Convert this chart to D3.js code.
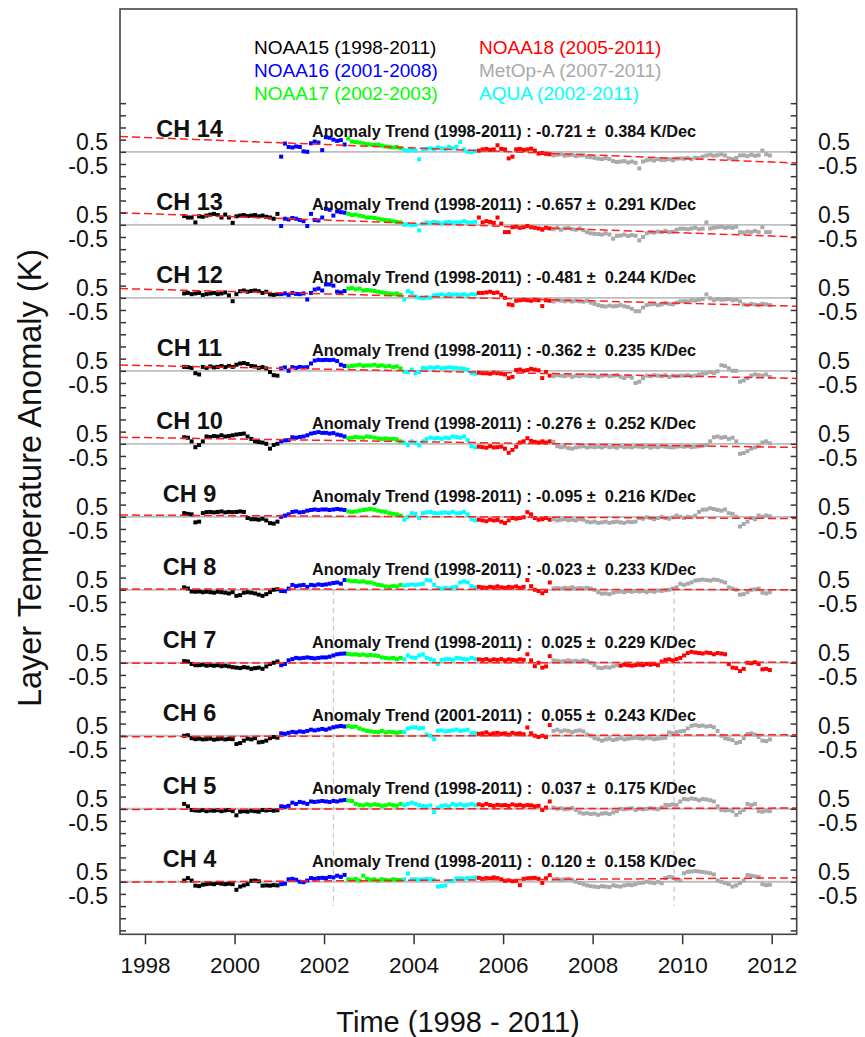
<!DOCTYPE html>
<html><head><meta charset="utf-8">
<script src="https://cdn.jsdelivr.net/npm/d3@7"></script>
<style>body{margin:0;background:#fff}svg text{font-family:"Liberation Sans",Arial,sans-serif}</style>
</head><body>
<svg id="chart" width="865" height="1037"></svg>
<script>
// ---------------- data ----------------
// monthly anomalies (K), first value = Nov 1998, last = Dec 2011
const ch14 = [null,null,
 null,null,null,null,null,null,null,null,null,null,null,null,
 null,null,null,null,null,null,null,null,null,null,null,null,
 -0.2,0.34,0.2,0.18,0.22,0.2,0.02,0.0,0.35,0.42,0.38,0.07,
 0.6,0.58,0.5,0.45,0.48,0.3,0.55,0.42,0.4,0.38,0.35,0.32,
 0.3,0.28,0.3,0.25,0.22,0.2,0.18,0.2,0.15,0.07,0.05,0.1,
 0.05,-0.31,0.1,0.12,0.15,0.1,0.18,0.14,0.12,0.2,0.15,0.2,
 0.4,0.1,0.0,-0.02,0.03,0.05,0.1,0.12,0.08,0.1,0.27,0.12,
 0.1,-0.27,-0.2,0.1,0.12,0.08,0.1,0.13,0.05,-0.07,-0.05,-0.08,
 -0.1,-0.15,-0.12,-0.1,-0.16,-0.14,-0.12,-0.18,-0.15,-0.14,-0.2,-0.22,
 -0.25,-0.28,-0.3,-0.26,-0.3,-0.38,-0.42,-0.4,-0.38,-0.44,-0.4,-0.45,
 -0.68,-0.4,-0.35,-0.32,-0.36,-0.3,-0.34,-0.33,-0.3,-0.35,-0.28,-0.27,
 -0.28,-0.25,-0.3,-0.24,-0.26,-0.2,-0.15,-0.12,-0.16,-0.14,-0.1,-0.15,
 -0.27,-0.3,-0.25,-0.15,-0.14,-0.18,-0.12,-0.16,-0.14,0.05,-0.1,-0.15];
const ch13 = [0.36,0.3,
 0.3,0.1,0.35,0.33,0.38,0.42,0.45,0.4,0.3,0.42,0.3,0.08,
 0.35,0.38,0.4,0.36,0.38,0.4,0.35,0.38,0.33,0.3,0.25,0.45,
 -0.05,0.25,0.22,0.28,0.25,0.2,0.15,-0.05,0.45,0.2,0.18,0.3,
 0.66,0.62,0.38,0.55,0.52,0.5,0.45,0.4,0.42,0.38,0.35,0.3,
 0.3,0.28,0.25,0.22,0.2,0.18,0.15,0.12,0.1,0.0,0.02,-0.02,
 0.0,-0.23,0.05,0.1,0.08,0.12,0.1,0.05,0.1,0.12,0.08,0.1,
 0.1,0.15,0.1,0.08,0.12,0.3,0.1,0.15,0.12,0.08,0.3,0.05,
 -0.3,-0.3,-0.1,-0.08,-0.12,-0.1,-0.05,-0.1,-0.12,-0.15,-0.2,-0.12,
 -0.15,-0.18,-0.12,-0.2,-0.15,-0.12,-0.18,-0.2,-0.15,-0.22,-0.3,-0.35,
 -0.37,-0.38,-0.4,-0.35,-0.4,-0.57,-0.45,-0.44,-0.4,-0.46,-0.42,-0.45,
 -0.64,-0.5,-0.35,-0.3,-0.32,-0.28,-0.3,-0.25,-0.3,-0.28,-0.2,-0.16,
 -0.16,-0.18,-0.15,-0.12,-0.18,-0.16,0.1,-0.15,-0.12,-0.1,-0.08,-0.12,
 -0.1,-0.12,-0.08,-0.3,-0.32,-0.28,-0.3,-0.25,-0.3,-0.1,-0.3,-0.3];
const ch12 = [0.18,0.2,
 0.15,0.18,0.2,0.12,0.15,0.18,0.2,0.15,0.18,0.22,0.1,-0.14,
 0.15,0.27,0.3,0.25,0.28,0.3,0.27,0.2,0.25,0.14,0.12,0.15,
 0.15,0.18,0.12,0.2,0.16,0.15,0.18,-0.07,0.2,0.34,0.38,0.3,
 0.55,0.55,0.5,0.25,0.22,0.28,0.38,0.4,0.35,0.38,0.3,0.32,
 0.3,0.28,0.25,0.22,0.2,0.18,0.15,0.18,0.12,-0.07,0.27,0.2,
 0.05,0.0,-0.02,0.02,0.0,0.1,0.12,0.14,0.1,0.15,0.12,0.14,
 0.12,0.14,0.1,0.15,0.14,0.2,0.2,0.22,0.25,0.2,0.22,0.12,
 0.0,-0.27,-0.3,-0.12,-0.1,-0.08,-0.1,-0.12,-0.08,-0.1,-0.34,-0.1,
 -0.12,-0.15,-0.1,-0.12,-0.14,-0.1,-0.15,-0.12,-0.14,-0.16,-0.12,-0.2,
 -0.25,-0.3,-0.34,-0.36,-0.32,-0.35,-0.34,-0.3,-0.35,-0.38,-0.45,-0.55,
 -0.55,-0.4,-0.3,-0.27,-0.25,-0.3,-0.27,-0.22,-0.25,-0.27,-0.2,-0.15,
 -0.14,-0.15,-0.1,-0.12,-0.08,-0.05,0.14,-0.02,-0.1,-0.05,-0.08,-0.07,
 -0.05,-0.1,-0.08,-0.15,-0.27,-0.3,-0.25,-0.28,-0.3,-0.25,-0.27,-0.3];
const ch11 = [0.16,0.15,
 0.12,-0.1,-0.15,0.16,0.12,0.18,0.14,0.16,0.2,0.15,0.2,0.16,
 0.25,0.3,0.32,0.28,0.2,0.18,0.12,0.15,0.1,-0.05,-0.18,-0.2,
 0.1,0.14,0.0,0.15,0.12,0.16,0.14,0.15,0.3,0.42,0.45,0.44,
 0.45,0.44,0.45,0.4,0.25,0.2,0.18,0.2,0.22,0.25,0.2,0.22,
 0.22,0.25,0.2,0.22,0.18,0.2,0.15,0.18,0.1,-0.04,-0.05,0.05,
 -0.1,-0.05,0.12,0.1,0.14,0.12,0.15,0.1,0.12,0.14,0.13,0.12,
 0.1,0.08,0.05,-0.1,-0.12,-0.08,-0.1,-0.1,-0.12,-0.08,-0.1,-0.12,
 -0.15,-0.3,-0.25,0.03,0.05,0.0,0.03,0.08,0.05,0.02,-0.3,-0.05,
 -0.2,-0.22,-0.18,-0.2,-0.22,-0.18,-0.25,-0.2,-0.22,-0.18,-0.2,-0.22,
 -0.2,-0.25,-0.2,-0.18,-0.22,-0.2,-0.18,-0.25,-0.3,-0.22,-0.28,-0.5,
 -0.45,-0.3,-0.2,-0.22,-0.18,-0.2,-0.22,-0.18,-0.25,-0.2,-0.22,-0.2,
 -0.2,-0.18,-0.22,-0.2,-0.15,-0.12,-0.1,-0.05,-0.1,-0.02,0.23,0.2,
 0.1,0.0,0.0,-0.45,-0.4,-0.3,-0.2,-0.15,-0.18,-0.2,-0.15,-0.25];
const ch10 = [0.27,0.25,
 0.1,-0.14,-0.05,0.1,0.3,0.28,0.32,0.3,0.35,0.3,0.32,0.35,
 0.38,0.4,0.42,0.3,0.2,0.1,0.07,0.05,0.0,-0.2,-0.05,0.0,
 0.1,0.14,0.15,0.27,0.25,0.28,0.3,0.35,0.42,0.45,0.48,0.45,
 0.45,0.42,0.44,0.38,0.35,0.3,0.23,0.25,0.28,0.26,0.25,0.3,
 0.28,0.25,0.22,0.2,0.22,0.2,0.2,0.18,0.1,0.05,-0.05,0.1,
 0.05,-0.07,0.1,0.2,0.25,0.22,0.24,0.2,0.25,0.23,0.3,0.28,
 0.25,0.3,0.15,-0.1,-0.15,-0.12,-0.14,-0.16,-0.1,-0.15,-0.14,-0.12,
 -0.2,-0.37,-0.25,-0.12,0.05,0.1,0.23,0.12,0.08,0.05,0.1,0.05,
 0.1,0.08,-0.1,-0.14,-0.12,-0.18,-0.2,-0.15,-0.12,-0.1,-0.15,-0.12,
 -0.14,-0.12,-0.15,-0.1,-0.14,-0.12,-0.16,-0.1,-0.14,-0.12,-0.15,-0.1,
 -0.12,-0.14,-0.1,-0.16,-0.12,-0.14,-0.1,-0.12,-0.14,-0.15,-0.12,-0.1,
 -0.12,-0.1,-0.14,-0.12,-0.1,-0.08,-0.05,0.1,0.27,0.3,0.25,0.28,
 0.2,0.25,0.1,-0.41,-0.38,-0.3,-0.2,-0.15,-0.1,0.05,0.1,0.02];
const ch9 = [0.15,0.12,
 0.1,-0.23,-0.2,0.15,0.19,0.2,0.18,0.2,0.22,0.18,0.2,0.19,
 0.2,0.22,0.2,-0.05,-0.1,-0.1,-0.12,-0.08,-0.15,-0.26,-0.28,-0.2,
 0.0,0.05,0.1,0.2,0.22,0.18,0.2,0.25,0.28,0.3,0.28,0.3,
 0.3,0.28,0.3,0.32,0.3,0.28,0.22,0.2,0.22,0.25,0.28,0.3,
 0.32,0.29,0.25,0.22,0.2,0.15,0.12,0.1,0.05,-0.12,0.0,0.15,
 0.12,-0.05,0.15,0.18,0.2,0.15,0.14,0.16,0.18,0.15,0.2,0.14,
 0.15,0.2,0.1,-0.1,-0.15,-0.12,-0.15,-0.18,-0.12,-0.15,-0.13,-0.2,
 -0.26,-0.15,-0.05,-0.08,-0.05,-0.02,0.19,0.1,-0.05,-0.12,-0.1,-0.05,
 -0.12,-0.1,-0.15,-0.12,-0.1,-0.14,-0.12,-0.15,-0.1,-0.12,-0.2,-0.23,
 -0.2,-0.25,-0.23,-0.2,-0.25,-0.22,-0.2,-0.23,-0.25,-0.2,-0.22,-0.2,
 -0.05,-0.08,-0.02,-0.05,-0.1,-0.05,0.0,-0.05,-0.08,-0.02,0.05,0.0,
 -0.05,0.0,-0.02,0.05,0.2,0.29,0.3,0.35,0.32,0.28,0.25,0.3,
 0.15,0.12,0.0,-0.4,-0.3,-0.2,-0.05,-0.1,0.05,0.0,0.05,0.02];
const ch8 = [0.1,0.05,
 -0.07,-0.08,-0.07,-0.1,-0.08,-0.1,-0.12,-0.08,-0.1,-0.12,-0.15,-0.1,
 -0.25,-0.22,-0.12,-0.1,-0.12,-0.15,-0.2,-0.25,-0.18,-0.1,0.0,0.02,
 -0.05,-0.06,0.05,0.2,0.15,0.18,0.2,0.12,0.2,0.18,0.22,0.2,
 0.22,0.25,0.28,0.3,0.25,0.4,0.38,0.35,0.36,0.33,0.35,0.3,
 0.3,0.25,0.2,0.18,0.14,0.12,0.15,0.14,0.2,0.18,0.2,0.22,
 0.2,0.22,0.25,0.4,0.38,0.2,0.07,0.05,0.08,0.05,0.1,0.12,
 0.3,0.34,0.3,0.15,0.1,0.12,0.1,0.08,0.12,0.1,0.14,0.1,
 0.08,0.12,0.1,0.14,0.08,0.12,0.4,0.15,0.0,-0.05,-0.14,-0.05,
 0.3,0.05,0.07,0.05,0.08,0.06,0.1,0.05,0.07,0.05,0.08,0.05,
 0.0,-0.1,-0.16,-0.15,-0.18,-0.12,-0.08,-0.07,-0.1,-0.05,-0.08,-0.05,
 -0.07,-0.05,-0.1,-0.05,-0.08,-0.03,-0.05,-0.02,0.0,0.05,0.1,0.25,
 0.2,0.25,0.3,0.38,0.4,0.42,0.4,0.38,0.42,0.4,0.35,0.3,
 0.1,0.05,0.0,-0.2,-0.18,-0.1,0.0,0.02,0.05,-0.12,-0.15,-0.1];
const ch7 = [0.07,0.05,
 -0.05,-0.1,-0.1,-0.08,-0.12,-0.1,-0.12,-0.1,-0.14,-0.12,-0.15,-0.18,
 -0.2,-0.22,-0.18,-0.2,-0.25,-0.22,-0.2,-0.25,-0.15,-0.05,0.0,0.05,
 -0.1,-0.05,0.1,0.15,0.2,0.18,0.2,0.22,0.2,0.18,0.2,0.22,
 0.22,0.25,0.3,0.35,0.37,0.38,0.36,0.34,0.35,0.32,0.34,0.3,
 0.32,0.3,0.28,0.22,0.2,0.18,0.2,0.15,0.2,0.15,0.3,0.22,
 0.2,0.3,0.34,0.2,0.15,0.1,-0.05,0.12,0.14,0.15,0.12,0.2,
 0.18,0.15,0.14,0.2,0.15,0.14,0.12,0.15,0.1,0.14,0.12,0.15,
 0.1,0.14,0.12,0.1,0.14,0.12,0.35,0.1,-0.14,0.0,-0.2,-0.15,
 0.27,0.1,0.08,0.05,0.07,0.1,0.06,0.08,0.05,0.1,0.07,0.0,
 -0.1,-0.2,-0.22,-0.18,-0.2,-0.15,-0.1,-0.12,-0.08,-0.1,-0.12,-0.1,
 -0.08,-0.1,-0.05,-0.08,-0.05,-0.1,0.05,0.12,0.14,0.1,0.15,0.2,
 0.3,0.4,0.45,0.42,0.4,0.38,0.42,0.4,0.35,0.4,0.38,0.35,
 -0.05,-0.2,-0.22,-0.34,-0.25,0.0,-0.02,0.02,-0.05,-0.27,-0.25,-0.3];
const ch6 = [0.0,0.02,
 -0.1,-0.14,-0.12,-0.15,-0.14,-0.12,-0.16,-0.14,-0.12,-0.15,-0.13,-0.14,
 -0.34,-0.3,-0.2,-0.12,-0.15,-0.1,-0.27,-0.25,-0.2,-0.1,-0.05,-0.08,
 0.1,0.08,0.12,0.16,0.14,0.18,0.16,0.2,0.25,0.22,0.25,0.28,
 0.25,0.3,0.35,0.38,0.4,0.38,0.4,0.36,0.38,0.3,0.25,0.2,
 0.18,0.16,0.15,0.2,0.14,0.16,0.15,0.12,0.15,0.15,0.3,0.34,
 0.35,0.3,0.32,0.05,0.0,-0.14,0.2,0.22,0.18,0.2,0.22,0.25,
 0.2,0.22,0.25,0.1,0.12,0.08,0.1,0.14,0.06,0.1,0.12,0.08,
 0.1,0.05,0.12,0.08,0.1,0.06,0.34,0.1,0.0,-0.05,0.0,-0.05,
 0.44,0.2,0.25,0.18,0.22,0.2,0.15,0.2,0.22,0.18,0.05,0.0,
 -0.1,-0.14,-0.2,-0.15,-0.12,-0.18,-0.14,-0.1,-0.15,-0.12,-0.1,-0.08,
 -0.1,-0.12,-0.08,-0.1,-0.14,-0.12,-0.1,-0.08,0.14,0.1,0.15,0.18,
 0.2,0.3,0.41,0.44,0.4,0.42,0.38,0.4,0.35,0.2,0.0,-0.1,
 -0.14,-0.18,-0.3,-0.25,-0.1,0.07,0.1,0.05,-0.05,-0.2,-0.22,-0.15];
const ch5 = [0.2,0.1,
 -0.05,-0.07,-0.08,-0.06,-0.1,-0.07,-0.08,-0.06,-0.1,-0.07,-0.05,-0.1,
 -0.27,-0.12,-0.1,-0.12,-0.08,-0.1,-0.12,-0.05,-0.07,-0.05,-0.08,-0.06,
 0.1,0.08,0.12,0.25,0.2,0.28,0.25,0.2,0.3,0.28,0.3,0.32,
 0.3,0.28,0.32,0.3,0.34,0.36,0.34,0.32,0.2,0.16,0.14,0.18,
 0.15,0.18,0.16,0.12,0.14,0.18,0.15,0.12,0.2,0.15,0.2,0.25,
 0.2,0.15,0.12,0.1,0.14,-0.14,0.05,0.12,0.14,0.1,0.2,0.15,
 0.18,0.14,0.16,0.2,0.15,0.18,0.14,0.2,0.15,0.12,0.16,0.14,
 0.15,0.12,0.18,0.14,0.16,0.12,0.15,0.14,0.1,0.12,-0.05,0.05,
 0.3,0.05,0.0,0.02,-0.02,0.0,0.03,-0.05,-0.15,-0.2,-0.18,-0.22,
 -0.2,-0.25,-0.2,-0.18,-0.22,-0.15,-0.1,0.0,-0.02,0.0,0.02,-0.05,
 0.0,-0.02,0.0,0.02,0.0,-0.02,0.05,0.16,0.15,0.18,0.16,0.3,
 0.4,0.38,0.42,0.4,0.35,0.4,0.38,0.35,0.3,0.1,-0.05,-0.07,
 -0.05,-0.1,-0.25,-0.15,-0.05,0.2,0.15,0.2,-0.1,-0.12,-0.08,-0.1];
const ch4 = [0.05,0.15,
 0.05,-0.16,-0.18,-0.12,-0.1,-0.08,-0.1,-0.05,-0.08,-0.1,-0.08,-0.1,
 -0.33,-0.2,-0.15,-0.1,0.04,0.05,0.02,-0.16,-0.15,-0.16,-0.14,-0.15,
 -0.1,-0.08,0.1,0.12,0.08,0.0,-0.02,0.05,0.15,0.12,0.15,0.16,
 0.15,0.2,0.18,0.25,0.2,0.28,0.1,0.08,0.12,0.05,0.25,0.12,
 0.08,0.1,0.05,0.1,0.08,0.06,0.1,0.08,0.07,0.1,0.34,0.1,
 0.1,0.08,0.1,0.12,0.1,0.08,-0.2,-0.18,-0.15,0.02,0.04,0.14,
 0.14,0.12,0.15,0.14,0.18,0.16,0.12,0.15,0.14,0.18,0.15,0.1,
 0.04,0.06,0.02,0.04,-0.14,0.12,0.14,0.15,0.16,0.12,-0.05,0.14,
 0.27,0.1,0.12,0.08,0.1,0.12,0.08,0.0,-0.05,-0.1,-0.15,-0.18,
 -0.2,-0.22,-0.18,-0.2,-0.22,-0.15,-0.18,-0.2,-0.15,-0.12,-0.14,-0.1,
 -0.05,-0.04,0.0,-0.03,-0.05,0.0,-0.06,0.15,0.2,0.18,0.1,0.05,
 0.35,0.41,0.42,0.44,0.42,0.4,0.38,0.35,0.3,0.05,0.0,-0.05,
 -0.1,-0.2,-0.15,-0.05,0.05,0.27,0.25,0.22,0.2,-0.1,-0.14,-0.12];

const channelNames = ["CH 14","CH 13","CH 12","CH 11","CH 10","CH 9","CH 8","CH 7","CH 6","CH 5","CH 4"];
const channelSeries = [ch14,ch13,ch12,ch11,ch10,ch9,ch8,ch7,ch6,ch5,ch4];
const channelOffsets = [30,27,24,21,18,15,12,9,6,3,0];
const trendPeriods = ["1998-2011","1998-2011","1998-2011","1998-2011","1998-2011","1998-2011","1998-2011","1998-2011","2001-2011","1998-2011","1998-2011"];
const trendSlopes = [-0.721,-0.657,-0.481,-0.362,-0.276,-0.095,-0.023,0.025,0.055,0.037,0.120]; // K/decade
const trendErrors = [0.384,0.291,0.244,0.235,0.252,0.216,0.233,0.229,0.243,0.175,0.158];
const trendAt2005 = [0.085,0.0,0.016,-0.04,0.06,0.0,0.02,0.0,0.0,0.0,0.07];

const satNames = ["NOAA15 (1998-2011)","NOAA16 (2001-2008)","NOAA17 (2002-2003)","NOAA18 (2005-2011)","MetOp-A (2007-2011)","AQUA (2002-2011)"];
const satColors = ["#000000","#0000FF","#00FF00","#FF0000","#A9A9A9","#00FFFF"];
// satellite shown for each month range (start month index; 0 = Nov 1998)
const segStart = [0,26,44,59,79,99];
const segSat   = [0,1,2,5,3,4];
const segExtra = {"CH 7": [[117,3]]}; // NOAA18 plotted from Aug 2008 in CH 7

const xTickYears = [1998,2000,2002,2004,2006,2008,2010,2012];
const yTickValues = d3.range(-2, 32.001, 0.5);
const markerYears = [2002.21, 2009.82];
const startMonthIndex = 10; // Nov 1998 counted from Jan 1998

// ---------------- drawing ----------------
const svg = d3.select("#chart");
const L = 120, R = 796.7, T = 9, B = 934.3;
const x = d3.scaleLinear().domain([1997.4415, 2012.5585]).range([L, R]);
const y = d3.scaleLinear().domain([-2.16, 35.87]).range([B, T]);
const tOf = i => 1998 + (startMonthIndex + i + 0.5) / 12;

svg.append("rect").attr("width",865).attr("height",1037).attr("fill","#fff");

svg.append("defs").append("clipPath").attr("id","plotclip")
  .append("rect").attr("x",L).attr("y",T).attr("width",R-L).attr("height",B-T);

const plot = svg.append("g").attr("clip-path","url(#plotclip)");

// vertical markers
markerYears.forEach(yr => {
  plot.append("line").attr("x1",x(yr)).attr("x2",x(yr))
    .attr("y1",y(12)).attr("y2",y(-1))
    .attr("stroke","#c8c8c8").attr("stroke-width",1.3).attr("stroke-dasharray","5,4");
});

function satFor(name, i){
  let s = 0;
  segStart.forEach((st,k)=>{ if(i>=st) s = segSat[k]; });
  (segExtra[name]||[]).forEach(([st,sat])=>{ if(i>=st) s = sat; });
  return s;
}

channelNames.forEach((name, k) => {
  const off = channelOffsets[k];
  const y0 = y(off);
  // zero line
  plot.append("line").attr("x1",L).attr("x2",R).attr("y1",y0).attr("y2",y0)
    .attr("stroke","#BEBEBE").attr("stroke-width",1.8);
  // points
  const pts = channelSeries[k].map((v,i)=>({t:tOf(i), v, s:satFor(name,i)})).filter(d=>d.v!==null);
  plot.append("g").selectAll("rect").data(pts).join("rect")
    .attr("x", d=>x(d.t)-2).attr("y", d=>y(off+d.v)-2)
    .attr("width",4).attr("height",4)
    .attr("fill", d=>satColors[d.s]);
  // trend line
  const tr = t => off + trendAt2005[k] + trendSlopes[k]/10*(t-2005);
  const [ta, tb] = x.domain();
  plot.append("line").attr("x1",x(ta)).attr("x2",x(tb)).attr("y1",y(tr(ta))).attr("y2",y(tr(tb)))
    .attr("stroke","#FF2020").attr("stroke-width",1.5).attr("stroke-dasharray","8,4");
  // labels
  svg.append("text").attr("x",189.5).attr("y",y0-14.5).attr("text-anchor","middle")
    .attr("font-size",23.5).attr("font-weight","bold").attr("fill","#111").text(name);
  const f = v => (v<0?"-":" ") + Math.abs(v).toFixed(3);
  svg.append("text").attr("x",312).attr("y",y0-14.5).style("white-space","pre")
    .attr("font-size",16).attr("font-weight","bold").attr("fill","#111")
    .attr("textLength", 384).attr("lengthAdjust","spacingAndGlyphs")
    .text("Anomaly Trend (" + trendPeriods[k] + ") : " + f(trendSlopes[k]) + " \u00B1  " + f(trendErrors[k]).trim() + " K/Dec");
  [[0.5,"0.5"],[-0.5,"-0.5"]].forEach(([dv,lab])=>{
    svg.append("text").attr("x",108).attr("y",y(off+dv)+2).attr("text-anchor","end")
      .attr("dominant-baseline","central").attr("font-size",23).attr("fill","#111").text(lab);
    svg.append("text").attr("x",818).attr("y",y(off+dv)+2).attr("text-anchor","start")
      .attr("dominant-baseline","central").attr("font-size",23).attr("fill","#111").text(lab);
  });
});

// axes ticks (inward on y)
const yl = svg.append("g").attr("transform",`translate(${L},0)`)
  .call(d3.axisLeft(y).tickValues(yTickValues).tickSize(-6).tickFormat(""));
const yr = svg.append("g").attr("transform",`translate(${R},0)`)
  .call(d3.axisRight(y).tickValues(yTickValues).tickSize(-6).tickFormat(""));
[yl,yr].forEach(g=>{ g.select(".domain").remove(); g.selectAll("line").attr("stroke","#333").attr("stroke-width",1.5); });

const xa = svg.append("g").attr("transform",`translate(0,${B})`)
  .call(d3.axisBottom(x).tickValues(xTickYears).tickSize(10).tickPadding(13).tickFormat(d3.format("d")));
xa.select(".domain").remove();
xa.selectAll("line").attr("stroke","#333").attr("stroke-width",1.5);
xa.selectAll("text").attr("font-size",22.5).attr("fill","#111").attr("font-family","Liberation Sans, Arial, sans-serif");

// frame
svg.append("rect").attr("x",L).attr("y",T).attr("width",R-L).attr("height",B-T)
  .attr("fill","none").attr("stroke","#444").attr("stroke-width",1.6);

// legend
satNames.forEach((n,i)=>{
  const col = Math.floor(i/3), row = i%3;
  svg.append("text").attr("x",[254,479][col]).attr("y",47+row*23)
    .attr("dominant-baseline","central").attr("font-size",19)
    .attr("fill",satColors[i]).text(n);
});

// titles
svg.append("text").attr("x",458).attr("y",1022).attr("text-anchor","middle")
  .attr("dominant-baseline","central").attr("font-size",29).attr("fill","#111")
  .text("Time (1998 - 2011)");
svg.append("text").attr("transform","translate(30,478) rotate(-90)").attr("text-anchor","middle")
  .attr("dominant-baseline","central").attr("font-size",32.5).attr("fill","#111")
  .text("Layer Temperature Anomaly (K)");
</script>
</body></html>
